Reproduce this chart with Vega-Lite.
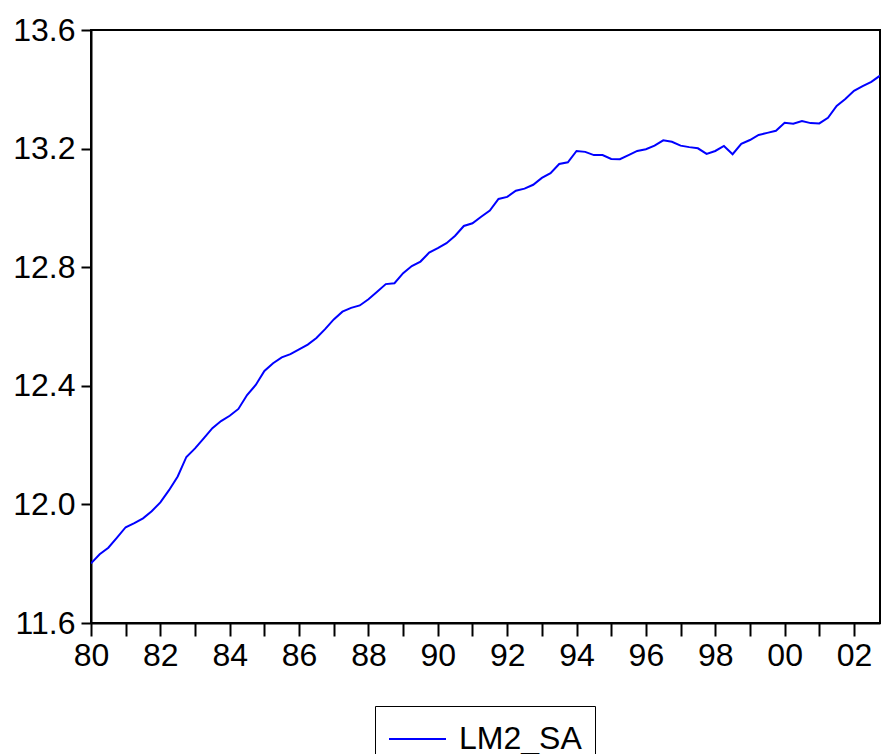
{
  "$schema": "https://vega.github.io/schema/vega-lite/v6.json",
  "width": 789,
  "height": 593,
  "autosize": {"type": "none"},
  "padding": {"left": 91, "top": 30, "right": 6, "bottom": 131},
  "background": "white",
  "config": {
    "font": "Liberation Sans",
    "view": {"stroke": "black", "strokeWidth": 2},
    "axis": {"grid": false, "domainColor": "black", "domainWidth": 2, "tickColor": "black", "tickWidth": 2, "labelColor": "black", "labelFont": "Liberation Sans", "labelFontSize": 32}
  },
  "data": {
    "values": [
      {"t": 1980.00, "v": 11.801}, {"t": 1980.25, "v": 11.832}, {"t": 1980.50, "v": 11.854}, {"t": 1980.75, "v": 11.888},
      {"t": 1981.00, "v": 11.923}, {"t": 1981.25, "v": 11.937}, {"t": 1981.50, "v": 11.953}, {"t": 1981.75, "v": 11.977},
      {"t": 1982.00, "v": 12.007}, {"t": 1982.25, "v": 12.048}, {"t": 1982.50, "v": 12.094}, {"t": 1982.75, "v": 12.160},
      {"t": 1983.00, "v": 12.189}, {"t": 1983.25, "v": 12.223}, {"t": 1983.50, "v": 12.257}, {"t": 1983.75, "v": 12.281},
      {"t": 1984.00, "v": 12.299}, {"t": 1984.25, "v": 12.322}, {"t": 1984.50, "v": 12.369}, {"t": 1984.75, "v": 12.403},
      {"t": 1985.00, "v": 12.450}, {"t": 1985.25, "v": 12.476}, {"t": 1985.50, "v": 12.496}, {"t": 1985.75, "v": 12.507},
      {"t": 1986.00, "v": 12.523}, {"t": 1986.25, "v": 12.539}, {"t": 1986.50, "v": 12.561}, {"t": 1986.75, "v": 12.591},
      {"t": 1987.00, "v": 12.624}, {"t": 1987.25, "v": 12.650}, {"t": 1987.50, "v": 12.663}, {"t": 1987.75, "v": 12.671},
      {"t": 1988.00, "v": 12.692}, {"t": 1988.25, "v": 12.717}, {"t": 1988.50, "v": 12.743}, {"t": 1988.75, "v": 12.746},
      {"t": 1989.00, "v": 12.780}, {"t": 1989.25, "v": 12.804}, {"t": 1989.50, "v": 12.819}, {"t": 1989.75, "v": 12.849},
      {"t": 1990.00, "v": 12.864}, {"t": 1990.25, "v": 12.881}, {"t": 1990.50, "v": 12.906}, {"t": 1990.75, "v": 12.939},
      {"t": 1991.00, "v": 12.948}, {"t": 1991.25, "v": 12.970}, {"t": 1991.50, "v": 12.991}, {"t": 1991.75, "v": 13.030},
      {"t": 1992.00, "v": 13.037}, {"t": 1992.25, "v": 13.058}, {"t": 1992.50, "v": 13.065}, {"t": 1992.75, "v": 13.078},
      {"t": 1993.00, "v": 13.101}, {"t": 1993.25, "v": 13.117}, {"t": 1993.50, "v": 13.148}, {"t": 1993.75, "v": 13.154},
      {"t": 1994.00, "v": 13.192}, {"t": 1994.25, "v": 13.189}, {"t": 1994.50, "v": 13.178}, {"t": 1994.75, "v": 13.178},
      {"t": 1995.00, "v": 13.165}, {"t": 1995.25, "v": 13.164}, {"t": 1995.50, "v": 13.178}, {"t": 1995.75, "v": 13.192},
      {"t": 1996.00, "v": 13.198}, {"t": 1996.25, "v": 13.210}, {"t": 1996.50, "v": 13.228}, {"t": 1996.75, "v": 13.223},
      {"t": 1997.00, "v": 13.210}, {"t": 1997.25, "v": 13.205}, {"t": 1997.50, "v": 13.201}, {"t": 1997.75, "v": 13.182},
      {"t": 1998.00, "v": 13.192}, {"t": 1998.25, "v": 13.209}, {"t": 1998.50, "v": 13.181}, {"t": 1998.75, "v": 13.216},
      {"t": 1999.00, "v": 13.229}, {"t": 1999.25, "v": 13.246}, {"t": 1999.50, "v": 13.253}, {"t": 1999.75, "v": 13.260},
      {"t": 2000.00, "v": 13.287}, {"t": 2000.25, "v": 13.284}, {"t": 2000.50, "v": 13.293}, {"t": 2000.75, "v": 13.286},
      {"t": 2001.00, "v": 13.285}, {"t": 2001.25, "v": 13.304}, {"t": 2001.50, "v": 13.344}, {"t": 2001.75, "v": 13.367},
      {"t": 2002.00, "v": 13.395}, {"t": 2002.25, "v": 13.411}, {"t": 2002.50, "v": 13.425}, {"t": 2002.75, "v": 13.446}
    ]
  },
  "mark": {"type": "line", "strokeWidth": 2, "clip": true},
  "encoding": {
    "x": {
      "field": "t",
      "type": "quantitative",
      "scale": {"domain": [1980, 2002.75], "nice": false, "zero": false},
      "axis": {
        "title": null,
        "values": [1980, 1981, 1982, 1983, 1984, 1985, 1986, 1987, 1988, 1989, 1990, 1991, 1992, 1993, 1994, 1995, 1996, 1997, 1998, 1999, 2000, 2001, 2002],
        "labelExpr": "datum.value % 2 == 0 ? ((datum.value % 100) < 10 ? '0' + (datum.value % 100) : '' + (datum.value % 100)) : ''",
        "tickSize": 13,
        "labelPadding": 4,
        "labelOverlap": false,
        "labelFlush": false
      }
    },
    "y": {
      "field": "v",
      "type": "quantitative",
      "scale": {"domain": [11.6, 13.6], "nice": false, "zero": false},
      "axis": {
        "title": null,
        "values": [11.6, 12.0, 12.4, 12.8, 13.2, 13.6],
        "format": ".1f",
        "tickSize": 10,
        "labelPadding": 6,
        "labelOverlap": false,
        "labelFlush": false
      }
    },
    "color": {
      "datum": "LM2_SA",
      "type": "nominal",
      "scale": {"range": ["#0000ff"]},
      "legend": {
        "title": null,
        "orient": "none",
        "legendX": 284,
        "legendY": 676,
        "symbolType": "M-1,0H2",
        "symbolSize": 1444,
        "symbolStrokeWidth": 2,
        "labelFontSize": 32,
        "labelFont": "Liberation Sans",
        "labelColor": "black",
        "labelOffset": 31,
        "strokeColor": "black",
        "padding": 13,
        "fillColor": "white"
      }
    }
  }
}
